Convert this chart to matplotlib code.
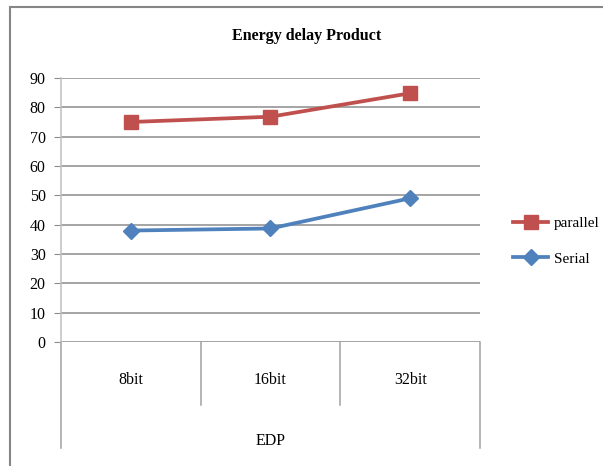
import matplotlib.pyplot as plt
import matplotlib.transforms as mtransforms
from matplotlib.patches import Rectangle

# Du lieu doc tu hinh
categories = ['8bit', '16bit', '32bit']
group_label = 'EDP'
parallel = [75.0, 76.8, 84.8]
serial = [38.0, 38.7, 49.0]
yticks = [0, 10, 20, 30, 40, 50, 60, 70, 80, 90]

plt.rcParams['font.family'] = ['Liberation Serif', 'DejaVu Serif']

fig = plt.figure(figsize=(6.03, 4.66), dpi=100)
ax = fig.add_axes([61 / 603, 1 - 342 / 466, 419 / 603, 264 / 466])

x = list(range(len(categories)))
ax.plot(x, parallel, color='#C0504D', linewidth=2.7, marker='s', markersize=9.5,
        label='parallel', zorder=3)
ax.plot(x, serial, color='#4F81BD', linewidth=2.7, marker='D', markersize=8.5,
        label='Serial', zorder=3)

ax.set_xlim(-0.5, len(categories) - 0.5)
ax.set_ylim(0, 90)
ax.set_yticks(yticks)
ax.set_yticklabels([str(v) for v in yticks], fontsize=11.5)
ax.set_xticks([])
ax.tick_params(axis='y', length=5, color='#8c8c8c', pad=6)
ax.grid(axis='y', color='#8c8c8c', linewidth=1.1)
ax.set_axisbelow(True)
for side in ['top', 'right', 'bottom']:
    ax.spines[side].set_visible(False)
ax.spines['left'].set_color('#c0c0c0')
ax.spines['left'].set_linewidth(1.1)

# Truc danh muc nhieu cap
trans = mtransforms.blended_transform_factory(ax.transData, ax.transAxes)
for i, b in enumerate([-0.5, 0.5, 1.5, 2.5]):
    y_end = -0.40 if i in (0, 3) else -0.24
    ax.plot([b, b], [0, y_end], color='#a0a0a0', linewidth=1.1,
            transform=trans, clip_on=False)
for xi, c in zip(x, categories):
    ax.text(xi, -0.144, c, transform=trans, ha='center', va='center', fontsize=11.5)
ax.text(1, -0.375, group_label, transform=trans, ha='center', va='center', fontsize=11.5)

fig.text(307 / 603, 1 - 36 / 466, 'Energy delay Product', fontsize=11.5,
         fontweight='bold', ha='center', va='center')

ax.legend(loc='center left', bbox_to_anchor=(513 / 603, 1 - 241 / 466),
          bbox_transform=fig.transFigure, frameon=False, fontsize=11,
          handlelength=2.3, labelspacing=1.45, handletextpad=0.4,
          borderaxespad=0, borderpad=0)

# Khung vien bieu do
fig.patches.append(Rectangle((10 / 603, -0.1), 1.2, 1.1 - 7 / 466,
                             transform=fig.transFigure, fill=False,
                             edgecolor='#868686', linewidth=1.5))

plt.savefig('out.png', dpi=100)
